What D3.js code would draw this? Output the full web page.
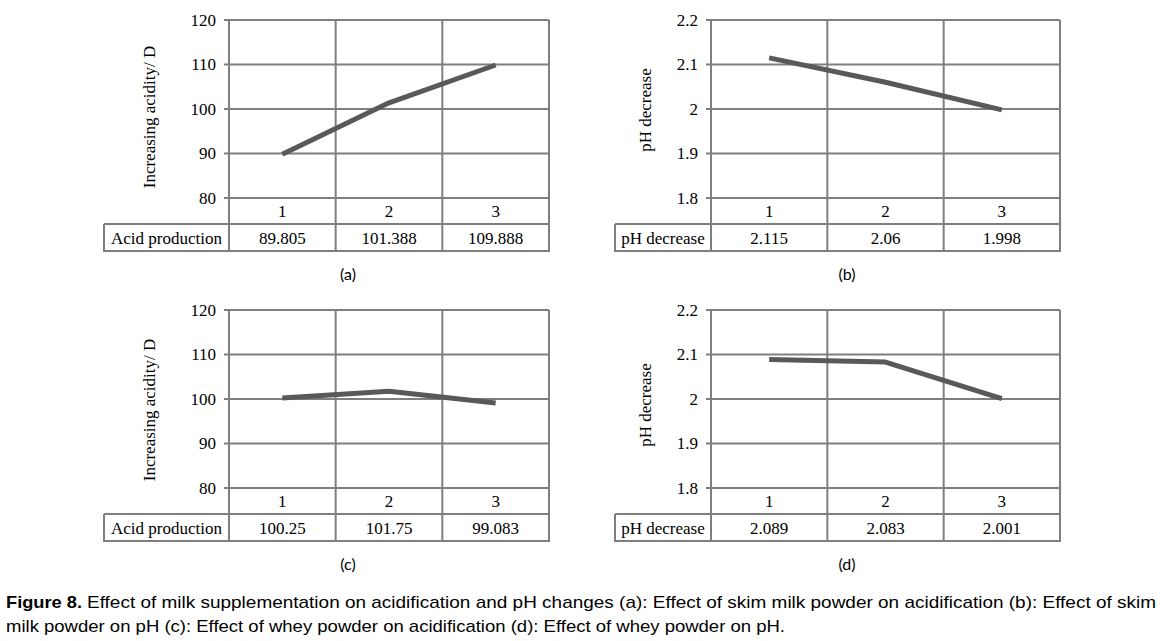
<!DOCTYPE html>
<html>
<head>
<meta charset="utf-8">
<script src="https://cdn.jsdelivr.net/npm/d3@7"></script>
<style>
  html, body { margin: 0; padding: 0; background: #fff; }
  svg { display: block; }
</style>
</head>
<body>
<svg id="chart" width="1160" height="641"></svg>
<script>
// ---- data ----
const categories = ["1", "2", "3"];
const acidSkim = [89.805, 101.388, 109.888];
const phSkim = [2.115, 2.06, 1.998];
const acidWhey = [100.25, 101.75, 99.083];
const phWhey = [2.089, 2.083, 2.001];
const acidTableLabels = ["89.805", "101.388", "109.888"];
const phSkimTableLabels = ["2.115", "2.06", "1.998"];
const acidWheyTableLabels = ["100.25", "101.75", "99.083"];
const phWheyTableLabels = ["2.089", "2.083", "2.001"];
const acidTicks = [80, 90, 100, 110, 120];
const phTicks = [1.8, 1.9, 2.0, 2.1, 2.2];
const acidTickLabels = ["80", "90", "100", "110", "120"];
const phTickLabels = ["1.8", "1.9", "2", "2.1", "2.2"];
const panelTitles = ["(a)", "(b)", "(c)", "(d)"];
const captionBold = "Figure 8.";
const captionLine1 = "Effect of milk supplementation on acidification and pH changes  (a): Effect of skim milk powder on acidification (b): Effect of skim";
const captionLine2 = "milk powder on pH (c): Effect of whey powder on acidification (d): Effect of whey powder on pH.";

const svg = d3.select("#chart");
const GRID = "#7f7f7f";
const LINE = "#595959";
const SERIF = "'Liberation Serif', 'Times New Roman', serif";
const FS = 17;

function drawPanel(p) {
  const g = svg.append("g");
  const x = d3.scaleBand().domain(categories).range([p.left, p.right]);
  const y = d3.scaleLinear().domain([p.ticks[0], p.ticks[p.ticks.length - 1]]).range([p.bottom, p.top]);

  // horizontal gridlines with outward tick stub
  g.selectAll(".hg").data(p.ticks).join("line")
    .attr("x1", p.left - 5).attr("x2", p.right)
    .attr("y1", d => y(d)).attr("y2", d => y(d))
    .attr("stroke", GRID).attr("stroke-width", 2);

  // y axis labels via d3 axis
  const ax = d3.axisLeft(y).tickValues(p.ticks)
    .tickFormat((d, i) => p.tickLabels[i]).tickSize(0).tickPadding(13);
  const axg = g.append("g").attr("transform", `translate(${p.left},0)`).call(ax);
  axg.attr("font-family", null).attr("font-size", null);
  axg.select(".domain").remove();
  axg.selectAll("text").style("font-family", SERIF).style("font-size", FS + "px").attr("fill", "#000");

  // vertical lines (left border, dividers, right border) through label row and table
  const vx = categories.map(c => x(c)).concat([p.right]);
  g.selectAll(".vg").data(vx).join("line")
    .attr("x1", d => d).attr("x2", d => d)
    .attr("y1", p.top).attr("y2", p.tableBottom)
    .attr("stroke", GRID).attr("stroke-width", 2);

  // table borders
  g.append("line").attr("x1", p.tableLeft).attr("x2", p.right)
    .attr("y1", p.tableTop).attr("y2", p.tableTop).attr("stroke", GRID).attr("stroke-width", 2);
  g.append("line").attr("x1", p.tableLeft - 1).attr("x2", p.right + 1)
    .attr("y1", p.tableBottom).attr("y2", p.tableBottom).attr("stroke", GRID).attr("stroke-width", 2);
  g.append("line").attr("x1", p.tableLeft).attr("x2", p.tableLeft)
    .attr("y1", p.tableTop).attr("y2", p.tableBottom).attr("stroke", GRID).attr("stroke-width", 2);

  const txt = sel => sel.style("font-family", SERIF).style("font-size", FS + "px").attr("fill", "#000");

  // category labels
  g.selectAll(".cat").data(categories).join("text")
    .attr("x", d => x(d) + x.bandwidth() / 2).attr("y", (p.bottom + p.tableTop) / 2 + 6)
    .attr("text-anchor", "middle").call(txt)
    .text(d => d);

  // table row
  g.append("text").attr("x", (p.tableLeft + p.left) / 2).attr("y", (p.tableTop + p.tableBottom) / 2 + 6)
    .attr("text-anchor", "middle").call(txt)
    .text(p.rowName);
  g.selectAll(".val").data(categories).join("text")
    .attr("x", d => x(d) + x.bandwidth() / 2).attr("y", (p.tableTop + p.tableBottom) / 2 + 6)
    .attr("text-anchor", "middle").call(txt)
    .text((d, i) => p.tableLabels[i]);

  // data line
  const line = d3.line().x((d, i) => x(categories[i]) + x.bandwidth() / 2).y(d => y(d));
  g.append("path").datum(p.values).attr("d", line)
    .attr("fill", "none").attr("stroke", LINE).attr("stroke-width", 5)
    .attr("stroke-linejoin", "round").attr("stroke-linecap", "butt");

  // y title
  g.append("text")
    .attr("transform", `translate(${p.titleX},${p.titleY}) rotate(-90)`)
    .attr("text-anchor", "middle").attr("dominant-baseline", "central")
    .call(txt)
    .text(p.yTitle);

  // panel label
  g.append("text").attr("x", p.panelX).attr("y", p.tableBottom + 29)
    .attr("text-anchor", "middle").style("font-family", "Lato, 'Open Sans', sans-serif").style("font-size", "16px")
    .text(p.panelTitle);
}

const leftCol = { tableLeft: 104, left: 229, right: 549, titleX: 149, panelX: 348 };
const rightCol = { tableLeft: 615, left: 711, right: 1060, titleX: 645, panelX: 847 };
const topRow = { top: 20, bottom: 198, tableTop: 224, tableBottom: 251 };
const botRow = { top: 310, bottom: 488, tableTop: 514, tableBottom: 541 };

drawPanel({ ...leftCol, ...topRow, ticks: acidTicks, tickLabels: acidTickLabels, values: acidSkim,
  tableLabels: acidTableLabels, rowName: "Acid production", yTitle: "Increasing acidity/ D", titleY: 117, panelTitle: panelTitles[0] });
drawPanel({ ...rightCol, ...topRow, ticks: phTicks, tickLabels: phTickLabels, values: phSkim,
  tableLabels: phSkimTableLabels, rowName: "pH decrease", yTitle: "pH decrease", titleY: 110, panelTitle: panelTitles[1] });
drawPanel({ ...leftCol, ...botRow, ticks: acidTicks, tickLabels: acidTickLabels, values: acidWhey,
  tableLabels: acidWheyTableLabels, rowName: "Acid production", yTitle: "Increasing acidity/ D", titleY: 410, panelTitle: panelTitles[2] });
drawPanel({ ...rightCol, ...botRow, ticks: phTicks, tickLabels: phTickLabels, values: phWhey,
  tableLabels: phWheyTableLabels, rowName: "pH decrease", yTitle: "pH decrease", titleY: 405, panelTitle: panelTitles[3] });

// caption
const CAP = "'Liberation Sans Narrow', 'Liberation Sans', Arial, sans-serif";
svg.append("text").attr("x", 6).attr("y", 608).style("font-family", CAP).style("font-size", "17px")
  .attr("font-weight", "bold").attr("textLength", 76).attr("lengthAdjust", "spacingAndGlyphs").text(captionBold);
svg.append("text").attr("x", 87).attr("y", 608).style("font-family", CAP).style("font-size", "17px")
  .attr("textLength", 1069).attr("lengthAdjust", "spacingAndGlyphs").text(captionLine1);
svg.append("text").attr("x", 6).attr("y", 632).style("font-family", CAP).style("font-size", "17px")
  .attr("textLength", 779).attr("lengthAdjust", "spacingAndGlyphs").text(captionLine2);
</script>
</body>
</html>
